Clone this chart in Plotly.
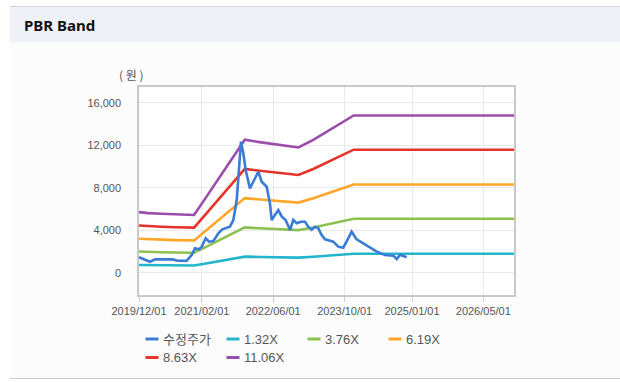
import plotly.graph_objects as go

W, H = 620, 382

# ---------------- data ----------------
price_dates = ["2019-12-01", "2020-01-10", "2020-02-14", "2020-03-19", "2020-06-15", "2020-07-13",
               "2020-08-22", "2020-10-21", "2020-11-24", "2020-12-16", "2021-01-12", "2021-01-31",
               "2021-02-27", "2021-03-21", "2021-04-20", "2021-05-06", "2021-05-24", "2021-06-20",
               "2021-08-11", "2021-09-03", "2021-09-26", "2021-10-25", "2021-11-10", "2021-11-26",
               "2021-12-25", "2022-01-17", "2022-02-20", "2022-03-15", "2022-04-18", "2022-05-10",
               "2022-05-22", "2022-06-13", "2022-07-06", "2022-07-29", "2022-08-25", "2022-09-24",
               "2022-10-16", "2022-11-08", "2022-12-07", "2023-01-04", "2023-01-26", "2023-02-18",
               "2023-03-13", "2023-04-04", "2023-04-27", "2023-05-20", "2023-07-15", "2023-08-18",
               "2023-09-21", "2023-10-25", "2023-11-17", "2023-12-21", "2024-02-04", "2024-05-06",
               "2024-07-01", "2024-08-27", "2024-09-19", "2024-10-11", "2024-11-03", "2024-11-26"]
price_values = [1450, 1200, 1030, 1250, 1220, 1250,
                1130, 1130, 1670, 2300, 2200, 2450,
                3240, 2920, 2980, 3300, 3700, 4080,
                4330, 4960, 6840, 12330, 11240, 9670,
                7940, 8560, 9500, 8560, 8090, 6530,
                4960, 5430, 5900, 5300, 4960, 4020,
                4960, 4650, 4800, 4800, 4330, 4050,
                4330, 4180, 3550, 3140, 2920, 2450,
                2350, 3240, 3860, 3140, 2760, 1980,
                1670, 1600, 1290, 1670, 1570, 1450]

band_dates = ["2019-12-01", "2020-02-01", "2020-05-01", "2020-08-01", "2020-12-10", "2021-03-01",
              "2021-06-01", "2021-09-01", "2021-11-20", "2022-03-01", "2022-07-01", "2022-11-20",
              "2023-03-01", "2023-06-01", "2023-09-01", "2023-12-01", "2026-12-01"]
band_132 = [720, 705, 695, 685, 675, 860, 1090, 1310, 1510, 1480, 1450, 1420, 1500, 1590, 1690, 1790, 1790]
band_376 = [1990, 1940, 1920, 1900, 1880, 2430, 3070, 3690, 4260, 4180, 4110, 4010, 4260, 4520, 4790, 5080, 5080]
band_619 = [3200, 3140, 3110, 3070, 3040, 3970, 5020, 6050, 7020, 6890, 6760, 6600, 7010, 7440, 7870, 8300, 8300]
band_863 = [4440, 4370, 4330, 4280, 4240, 5530, 7000, 8420, 9770, 9600, 9420, 9200, 9760, 10370, 10970, 11580, 11580]
band_1106 = [5700, 5610, 5550, 5490, 5430, 7090, 8960, 10790, 12520, 12290, 12060, 11790, 12510, 13280, 14060, 14800, 14800]

series_names = ["수정주가", "1.32X", "3.76X", "6.19X", "8.63X", "11.06X"]
series_colors = ["#3a7bd5", "#22b5cc", "#8cc152", "#ffa62b", "#e5322b", "#9b4dab"]

x_tick_vals = ["2019-12-01", "2021-02-01", "2022-06-01", "2023-10-01", "2025-01-01", "2026-05-01"]
x_tick_text = ["2019/12/01", "2021/02/01", "2022/06/01", "2023/10/01", "2025/01/01", "2026/05/01"]
y_tick_vals = [0, 4000, 8000, 12000, 16000]
y_tick_text = ["0", "4,000", "8,000", "12,000", "16,000"]

assert len(price_dates) == len(price_values)

# ---------------- figure ----------------
fig = go.Figure()
bands = [band_132, band_376, band_619, band_863, band_1106]
for i, vals in enumerate(bands):
    fig.add_trace(go.Scatter(x=band_dates, y=vals, mode="lines", name=series_names[i + 1],
                             line=dict(color=series_colors[i + 1], width=2.6), showlegend=False,
                             hoverinfo="skip"))
fig.add_trace(go.Scatter(x=price_dates, y=price_values, mode="lines", name=series_names[0],
                         line=dict(color=series_colors[0], width=2.6), showlegend=False,
                         hoverinfo="skip"))

# plot area in pixels
PL, PR, PT, PB = 139, 514, 87, 295

def px(x):
    return x / W

def py(y):
    return 1 - y / H

shapes = [
    # panel background
    dict(type="rect", xref="paper", yref="paper", x0=px(10), x1=px(620), y0=py(379), y1=py(42),
         fillcolor="#fcfcfc", line=dict(width=0), layer="below"),
    # header bar
    dict(type="rect", xref="paper", yref="paper", x0=px(10), x1=px(620), y0=py(42), y1=py(7),
         fillcolor="#eef2f7", line=dict(width=0), layer="below"),
    # top border
    dict(type="line", xref="paper", yref="paper", x0=px(10), x1=px(620), y0=py(6.5), y1=py(6.5),
         line=dict(color="#d3d6da", width=1), layer="below"),
    # bottom border
    dict(type="line", xref="paper", yref="paper", x0=px(10), x1=px(620), y0=py(378.5), y1=py(378.5),
         line=dict(color="#cfcfcf", width=1), layer="below"),
    # plot area background
    dict(type="rect", xref="paper", yref="paper", x0=px(PL), x1=px(PR), y0=py(PB), y1=py(PT),
         fillcolor="#ffffff", line=dict(width=0), layer="below"),
]

annotations = [
    dict(text="<b>PBR Band</b>", xref="paper", yref="paper", x=px(22), y=py(24.5),
         xanchor="left", yanchor="middle", showarrow=False,
         font=dict(family="Noto Sans, Liberation Sans, sans-serif", size=15, color="#111111")),
    dict(text="( 원 )", xref="paper", yref="paper", x=px(131.5), y=py(74),
         xanchor="center", yanchor="middle", showarrow=False,
         font=dict(family="Noto Sans CJK KR, sans-serif", size=12, color="#555555")),
]

# custom legend
leg_cols = [145.5, 226.5, 307.5, 388.5]
leg_rows = [339, 357.5]
for i, name in enumerate(series_names):
    r, c = divmod(i, 4)
    x0 = leg_cols[c]
    y0 = leg_rows[r]
    shapes.append(dict(type="line", xref="paper", yref="paper", x0=px(x0), x1=px(x0 + 13),
                       y0=py(y0), y1=py(y0), line=dict(color=series_colors[i], width=3)))
    annotations.append(dict(text=name, xref="paper", yref="paper", x=px(x0 + 15.5), y=py(y0),
                            xanchor="left", yanchor="middle", showarrow=False,
                            font=dict(family="Liberation Sans, Noto Sans CJK KR, sans-serif",
                                      size=13, color="#555555")))

fig.update_layout(
    width=W, height=H,
    margin=dict(l=0, r=0, t=0, b=0),
    paper_bgcolor="#ffffff",
    plot_bgcolor="rgba(0,0,0,0)",
    shapes=shapes,
    annotations=annotations,
    showlegend=False,
    xaxis=dict(
        domain=[px(PL), px(PR)],
        type="date",
        range=["2019-12-01", "2026-11-26"],
        tickvals=x_tick_vals, ticktext=x_tick_text,
        showgrid=True, gridcolor="#e9e9e9", gridwidth=1,
        ticks="outside", ticklen=5, tickcolor="#cfcfcf",
        showline=True, linecolor="#c8c8c8", linewidth=1.5, mirror=True,
        tickfont=dict(family="Liberation Sans, Arial, sans-serif", size=11, color="#555555"),
        zeroline=False, automargin=False, fixedrange=True,
    ),
    yaxis=dict(
        domain=[py(PB), py(PT)],
        range=[-2100, 17480],
        tickvals=y_tick_vals, ticktext=y_tick_text,
        showgrid=True, gridcolor="#e9e9e9", gridwidth=1,
        ticks="", ticklabelstandoff=14,
        showline=True, linecolor="#c8c8c8", linewidth=1.5, mirror=True,
        tickfont=dict(family="Liberation Sans, Arial, sans-serif", size=11, color="#555555"),
        zeroline=False, automargin=False, fixedrange=True,
    ),
)

fig.write_html("out.html", config={"displayModeBar": False},
               post_script="document.body.style.margin='0';document.body.style.overflow='hidden';")
